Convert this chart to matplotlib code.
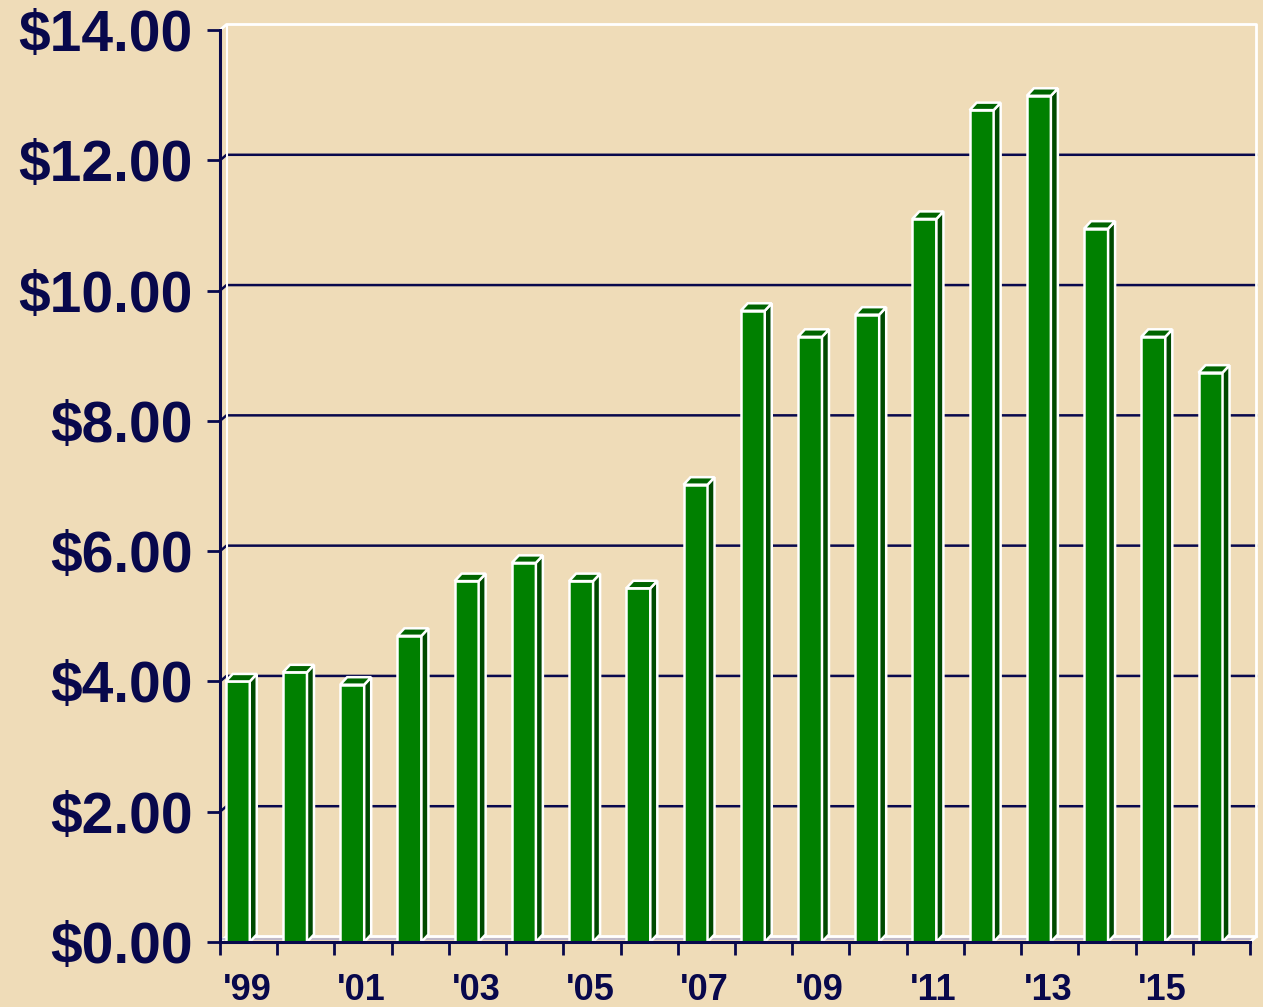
import matplotlib
matplotlib.use('Agg')
import matplotlib.pyplot as plt
from matplotlib.patches import Polygon

years = ["'99", "'00", "'01", "'02", "'03", "'04", "'05", "'06", "'07",
         "'08", "'09", "'10", "'11", "'12", "'13", "'14", "'15", "'16"]
values = [4.00, 4.14, 3.95, 4.70, 5.54, 5.82, 5.54, 5.43, 7.02,
          9.69, 9.29, 9.63, 11.10, 12.77, 12.99, 10.95, 9.29, 8.74]
y_ticks = [0, 2, 4, 6, 8, 10, 12, 14]
y_tick_labels = ['$0.00', '$2.00', '$4.00', '$6.00', '$8.00', '$10.00', '$12.00', '$14.00']

NAVY = '#08084c'
BG = '#efdcb8'
FRONT = '#008000'
SIDE = '#004a00'
TOP = '#006400'

W, H = 1263, 1007
fig = plt.figure(figsize=(W / 100, H / 100), dpi=100, facecolor=BG)
ax = fig.add_axes([220 / W, (H - 942) / H, 1030 / W, (942 - 30) / H])
ax.set_facecolor('none')
n = len(values)
ax.set_xlim(0, n)
ax.set_ylim(0, 14)

# pixel -> data conversions
px_x = (1030) / n
px_y = (942 - 30) / 14.0
ddx_wall, ddy_wall = 6.5 / px_x, 5.5 / px_y
ddx_bar, ddy_bar = 7.0 / px_x, 7.5 / px_y

# back wall gridlines
for v in y_ticks[1:-1]:
    ax.plot([0, ddx_wall, n + ddx_wall], [v, v + ddy_wall, v + ddy_wall],
            color=NAVY, lw=1.8, zorder=1, clip_on=False)
# back wall outline (white)
ax.plot([ddx_wall, ddx_wall], [ddy_wall, 14 + ddy_wall], color='white', lw=1.5, zorder=1, clip_on=False)
ax.plot([0, ddx_wall, n + ddx_wall, n + ddx_wall],
        [14, 14 + ddy_wall, 14 + ddy_wall, ddy_wall], color='white', lw=2, zorder=1, clip_on=False)
ax.plot([0, ddx_wall, n + ddx_wall, n], [0, ddy_wall, ddy_wall, 0],
        color='white', lw=2, zorder=1, clip_on=False)
ax.plot([0, n], [0.5 * ddy_wall, 0.5 * ddy_wall], color='#b8b4cc', lw=1.2, zorder=1, clip_on=False)

# bars
x0 = [i + 0.1 for i in range(n)]
bw = 0.42
ax.bar(x0, values, width=bw, align='edge', color=FRONT, edgecolor='white',
       linewidth=1.8, zorder=3)
for xi, v in zip(x0, values):
    x1 = xi + bw
    side = Polygon([(x1, 0), (x1 + ddx_bar, ddy_bar), (x1 + ddx_bar, v + ddy_bar), (x1, v)],
                   closed=True, facecolor=SIDE, edgecolor='white', lw=1.8, zorder=3, clip_on=False)
    top = Polygon([(xi, v), (xi + ddx_bar, v + ddy_bar), (x1 + ddx_bar, v + ddy_bar), (x1, v)],
                  closed=True, facecolor=TOP, edgecolor='white', lw=1.8, zorder=3, clip_on=False)
    ax.add_patch(side)
    ax.add_patch(top)

# spines
for s in ['top', 'right']:
    ax.spines[s].set_visible(False)
for s in ['left', 'bottom']:
    ax.spines[s].set_color(NAVY)
    ax.spines[s].set_linewidth(2.2)
    ax.spines[s].set_zorder(4)

ax.set_yticks(y_ticks)
ax.set_yticklabels(y_tick_labels)
ax.tick_params(axis='y', direction='out', length=9.5, width=2, color=NAVY, pad=10,
               labelsize=41, labelcolor=NAVY)
for t in ax.get_yticklabels():
    t.set_fontweight('bold')
    t.set_fontfamily('Liberation Sans')

ax.set_xticks(range(n + 1))
ax.set_xticklabels([])
ax.tick_params(axis='x', which='major', direction='out', length=9, width=2, color=NAVY)
ax.set_xticks([i + 0.47 for i in range(0, n, 2)], minor=True)
ax.set_xticklabels(years[::2], minor=True)
ax.tick_params(axis='x', which='minor', length=0, pad=22, labelsize=26, labelcolor=NAVY)
for t in ax.get_xticklabels(minor=True):
    t.set_fontweight('bold')
    t.set_fontfamily('Liberation Sans')

fig.savefig('out.png', dpi=100, facecolor=BG)
